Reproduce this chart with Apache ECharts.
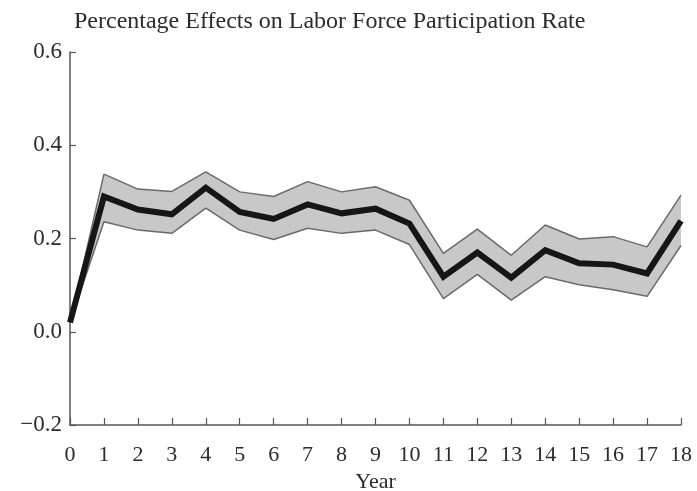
<!DOCTYPE html>
<html>
<head>
<meta charset="utf-8">
<script src="https://cdn.jsdelivr.net/npm/echarts@6/dist/echarts.min.js"></script>
<style>
    html, body { margin: 0; padding: 0; background: #fff; }
    #main { width: 697px; height: 491px; }
</style>
</head>
<body>
<div id="main"></div>
<script>
// 数据：年份、中心估计与置信带上下界
let years = ['0', '1', '2', '3', '4', '5', '6', '7', '8', '9', '10', '11', '12', '13', '14', '15', '16', '17', '18'];
let effect = [0.02, 0.29, 0.262, 0.252, 0.309, 0.257, 0.242, 0.273, 0.254, 0.264, 0.232, 0.118, 0.17, 0.116, 0.175, 0.147, 0.144, 0.125, 0.238];
let upper = [0.02, 0.338, 0.306, 0.301, 0.343, 0.300, 0.290, 0.322, 0.300, 0.311, 0.282, 0.168, 0.220, 0.164, 0.229, 0.199, 0.204, 0.182, 0.293];
let lower = [0.02, 0.236, 0.218, 0.211, 0.265, 0.218, 0.198, 0.222, 0.211, 0.218, 0.187, 0.071, 0.123, 0.068, 0.118, 0.101, 0.090, 0.076, 0.185];

let serif = '"Liberation Serif", "DejaVu Serif", serif';
let textColor = '#2b2b2b';

// 带宽 = 上界 - 下界，叠加在下界上
let bandWidth = [];
for (let i = 0; i < years.length; i++) {
    bandWidth.push(+(upper[i] - lower[i]).toFixed(3));
}

let myChart = echarts.init(document.getElementById('main'));
let option = {
    backgroundColor: '#fff',
    animation: false,
    title: {
        text: 'Percentage Effects on Labor Force Participation Rate',
        left: 69,
        top: 5,
        textStyle: {
            fontFamily: serif,
            fontSize: 24,
            fontWeight: 'normal',
            color: textColor
        }
    },
    grid: {
        left: 70,
        right: 16,
        top: 52,
        bottom: 66,
        containLabel: false,
        outerBoundsMode: 'none'
    },
    xAxis: {
        type: 'category',
        data: years,
        boundaryGap: false,
        name: 'Year',
        nameLocation: 'middle',
        nameGap: 45,
        nameTextStyle: { fontFamily: serif, fontSize: 22, color: textColor },
        axisLine: { onZero: false, lineStyle: { color: '#555', width: 1.5 } },
        axisTick: { inside: true, length: 7, lineStyle: { color: '#555', width: 1.2 } },
        axisLabel: { fontFamily: serif, fontSize: 22, color: textColor, margin: 19, interval: 0 },
        splitLine: { show: false }
    },
    yAxis: {
        type: 'value',
        min: -0.2,
        max: 0.6,
        interval: 0.2,
        axisLine: { show: true, lineStyle: { color: '#555', width: 1.5 } },
        axisTick: { show: true, inside: true, length: 6, lineStyle: { color: '#555', width: 1.2 } },
        axisLabel: {
            fontFamily: serif,
            fontSize: 23,
            color: textColor,
            margin: 8,
            formatter: function (v) {
                let s = Math.abs(v).toFixed(1);
                return v < -1e-9 ? '\u2212' + s : s;
            }
        },
        splitLine: { show: false }
    },
    series: [
        {
            name: 'lower-base',
            type: 'line',
            stack: 'band',
            data: lower,
            symbol: 'none',
            lineStyle: { opacity: 0 },
            z: 1
        },
        {
            name: 'band',
            type: 'line',
            stack: 'band',
            data: bandWidth,
            symbol: 'none',
            lineStyle: { opacity: 0 },
            areaStyle: { color: '#c8c8c8', opacity: 1 },
            z: 1
        },
        {
            name: 'upper',
            type: 'line',
            data: upper,
            symbol: 'none',
            lineStyle: { color: '#6a6a6a', width: 1.5 },
            z: 2
        },
        {
            name: 'lower',
            type: 'line',
            data: lower,
            symbol: 'none',
            lineStyle: { color: '#6a6a6a', width: 1.5 },
            z: 2
        },
        {
            name: 'effect',
            type: 'line',
            data: effect,
            symbol: 'none',
            lineStyle: { color: '#161616', width: 6, join: 'miter' },
            z: 3
        }
    ]
};
myChart.setOption(option);
</script>
</body>
</html>
